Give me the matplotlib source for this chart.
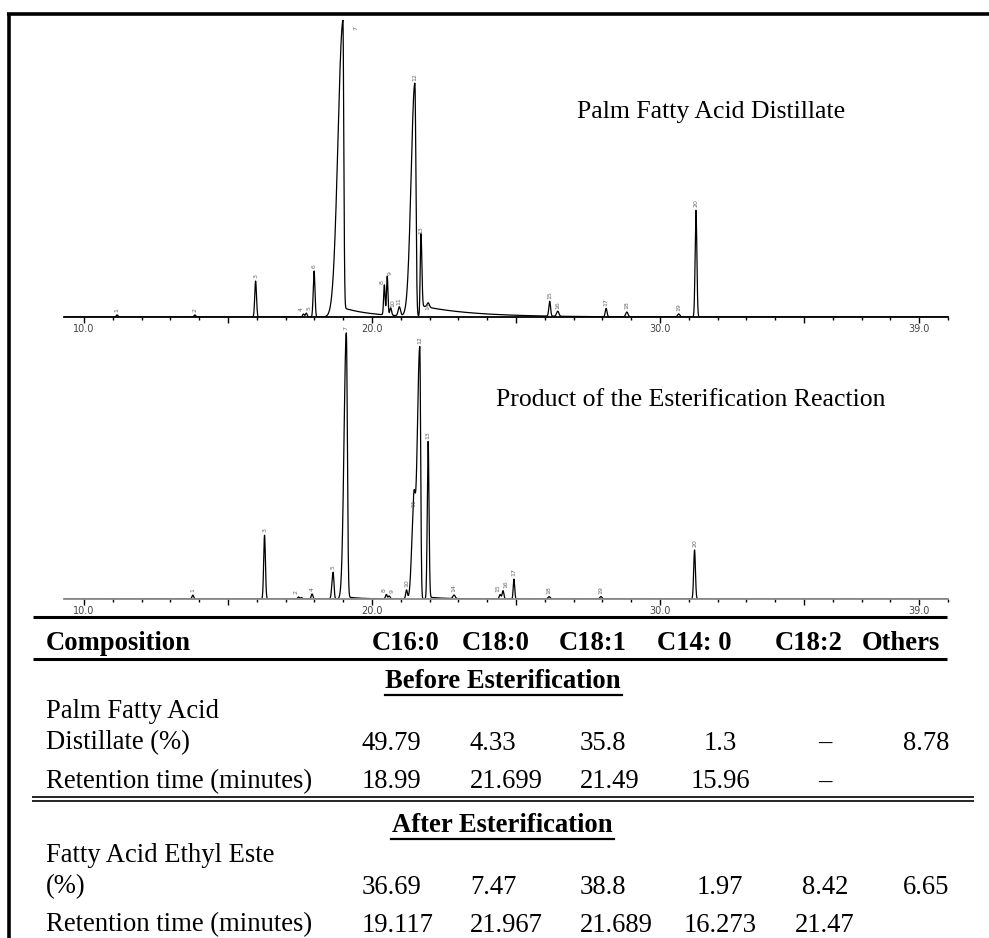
import numpy as np
import matplotlib.pyplot as plt
from matplotlib.ticker import FixedLocator, FixedFormatter, MultipleLocator

# ------------------------
# GC chromatograms + composition table
# ------------------------

W, H = 989, 938

# peaks (palm fatty acid distillate), intensity in % of panel height
pfad_rt = [11.15, 13.85, 15.96, 17.62, 17.72, 17.99, 18.99, 20.43, 20.53, 20.65, 20.95, 21.49, 21.70, 21.95,
           26.17, 26.45, 28.13, 28.85, 30.65, 31.25]
pfad_h = [0.7, 0.7, 12.1, 1.0, 1.3, 15.5, 99.0, 10.1, 13.1, 2.5, 3.0, 78.5, 27.0, 1.5,
          5.0, 1.7, 2.8, 1.6, 1.0, 36.0]
pfad_wl = [0.03, 0.03, 0.03, 0.03, 0.03, 0.03, 0.17, 0.025, 0.025, 0.03, 0.04, 0.13, 0.025, 0.04,
           0.03, 0.04, 0.03, 0.04, 0.04, 0.03]
pfad_wr = [0.03, 0.03, 0.03, 0.03, 0.03, 0.03, 0.03, 0.025, 0.025, 0.03, 0.04, 0.035, 0.03, 0.04,
           0.03, 0.04, 0.03, 0.04, 0.04, 0.03]
pfad_lab = ["1", "2", "3", "4", "5", "6", "7", "8", "9", "10", "11", "12", "13", "14",
            "15", "16", "17", "18", "19", "20"]
pfad_tail_t0 = [19.03, 21.75]
pfad_tail_amp = [3.0, 3.5]
pfad_tail_tau = [1.0, 1.8]

# peaks of the bottom trace (product of esterification)
faee_rt = [13.78, 16.27, 17.45, 17.55, 17.92, 18.65, 19.11, 20.50, 20.60, 21.20, 21.45, 21.66, 21.95, 22.85,
           24.45, 24.55, 24.93, 26.15, 27.95, 31.20]
faee_h = [1.3, 21.5, 0.7, 0.5, 1.7, 9.0, 89.6, 1.5, 1.0, 3.0, 30.0, 85.0, 53.0, 1.2,
          1.5, 2.8, 6.7, 0.8, 0.8, 16.5]
faee_wl = [0.03, 0.03, 0.03, 0.03, 0.03, 0.04, 0.08, 0.03, 0.03, 0.03, 0.07, 0.09, 0.03, 0.04,
           0.03, 0.03, 0.025, 0.04, 0.04, 0.03]
faee_wr = [0.03, 0.03, 0.03, 0.03, 0.03, 0.03, 0.035, 0.03, 0.03, 0.03, 0.05, 0.03, 0.03, 0.04,
           0.03, 0.03, 0.025, 0.04, 0.04, 0.03]
faee_lab = ["1", "3", "2", "", "4", "5", "7", "8", "9", "10", "11", "12", "13", "14",
            "15", "16", "17", "18", "19", "20"]
faee_tail_t0 = [19.2, 22.0]
faee_tail_amp = [0.6, 0.6]
faee_tail_tau = [0.5, 0.6]

# table
columns = ["C16:0", "C18:0", "C18:1", "C14: 0", "C18:2", "Others"]
before_pct = ["49.79", "4.33", "35.8", "1.3", "\u2013", "8.78"]
before_rt = ["18.99", "21.699", "21.49", "15.96", "\u2013", ""]
after_pct = ["36.69", "7.47", "38.8", "1.97", "8.42", "6.65"]
after_rt = ["19.117", "21.967", "21.689", "16.273", "21.47", ""]


def build_trace(t, rt, h, wl, wr, t0s, amps, taus):
    y = np.zeros_like(t)
    for r, a, l, s in zip(rt, h, wl, wr):
        sig = np.where(t < r, l, s)
        y += a * np.exp(-0.5 * ((t - r) / sig) ** 2)
    for t0, a, tau in zip(t0s, amps, taus):
        y += np.where(t >= t0, a * np.exp(-(t - t0) / tau), a * np.exp(-0.5 * ((t - t0) / 0.03) ** 2))
    return y


plt.rcParams['font.family'] = ['Liberation Serif', 'DejaVu Serif']
fig = plt.figure(figsize=(W / 100, H / 100), dpi=100)

# pixel-coordinate overlay for the frame and the table
bg = fig.add_axes([0, 0, 1, 1])
bg.set_xlim(0, W)
bg.set_ylim(H, 0)
bg.axis('off')


def px_to_fig(x0, y_top, x1, y_base):
    return [x0 / W, 1 - y_base / H, (x1 - x0) / W, (y_base - y_top) / H]


t = np.arange(9.3, 40.0, 0.004)
XL, XR = 63.8, 948.0

panels = [
    (317, pfad_rt, pfad_h, pfad_wl, pfad_wr, pfad_lab, pfad_tail_t0, pfad_tail_amp, pfad_tail_tau,
     "Palm Fatty Acid Distillate", 577, 112, 'black'),
    (599, faee_rt, faee_h, faee_wl, faee_wr, faee_lab, faee_tail_t0, faee_tail_amp, faee_tail_tau,
     "Product of the Esterification Reaction", 496, 400, '#8a8a8a'),
]

for base, rt, h, wl, wr, lab, t0s, amps, taus, title, tx, ty, axcol in panels:
    ax = fig.add_axes(px_to_fig(XL, base - 297, XR, base))
    ax.patch.set_alpha(0)
    y = build_trace(t, rt, h, wl, wr, t0s, amps, taus)
    ax.plot(t, y, color='black', lw=0.9)
    ax.set_xlim(9.3, 40.0)
    ax.set_ylim(0, 100)
    for s in ['top', 'left', 'right']:
        ax.spines[s].set_visible(False)
    ax.spines['bottom'].set_color(axcol)
    ax.spines['bottom'].set_linewidth(1.3)
    ax.set_yticks([])
    ax.xaxis.set_major_locator(FixedLocator([10, 15, 20, 25, 30, 35, 39]))
    ax.xaxis.set_major_formatter(FixedFormatter(["10.0", "", "20.0", "", "30.0", "", "39.0"]))
    ax.xaxis.set_minor_locator(MultipleLocator(1))
    ax.tick_params(axis='x', which='major', length=4, width=1, color='black', pad=1,
                   labelsize=7, labelcolor='#444444')
    ax.tick_params(axis='x', which='minor', length=2.5, width=1, color='black')
    for lbl in ax.get_xticklabels():
        lbl.set_family('DejaVu Sans')
    # peak numbers; nudge neighbours apart when two peaks sit very close
    for i, (r, a, l) in enumerate(zip(rt, h, lab)):
        if not l:
            continue
        dx = 0.0
        if i + 1 < len(rt) and rt[i + 1] - r < 0.16 and a < 20 and h[i + 1] < 20:
            dx = -0.09
        if i > 0 and r - rt[i - 1] < 0.16 and a < 20 and h[i - 1] < 20:
            dx = 0.09
        if a > 95:
            ax.text(r + 0.45, 98, l, rotation=90, fontsize=4.5, color='#666666',
                    ha='center', va='top', family='DejaVu Sans', clip_on=False)
        else:
            ax.text(r + dx, a + 1.0, l, rotation=90, fontsize=4.5, color='#666666',
                    ha='center', va='bottom', family='DejaVu Sans', clip_on=False)
    bg.text(tx, ty, title, fontsize=18.5, ha='left', va='center')

# frame
bg.plot([7, W], [14, 14], color='black', lw=2.6, solid_capstyle='butt')
bg.plot([8.5, 8.5], [13, H], color='black', lw=2.6, solid_capstyle='butt')

# table rules
bg.plot([33, 947], [617, 617], color='black', lw=2.2, solid_capstyle='butt')
bg.plot([33, 947], [659, 659], color='black', lw=2.2, solid_capstyle='butt')
bg.plot([32, 974], [797, 797], color='black', lw=1.2, solid_capstyle='butt')
bg.plot([32, 974], [801, 801], color='black', lw=1.2, solid_capstyle='butt')

FS = 19.2
bg.text(46, 643, "Composition", fontsize=FS, weight='bold', ha='left', va='center')
head_x = [372, 462, 559, 657, 775, 862]
for x, c in zip(head_x, columns):
    bg.text(x, 643, c, fontsize=FS, weight='bold', ha='left', va='center')

# value columns: (x, alignment)
val_pos = [(362, 'left'), (470, 'left'), (580, 'left'), (720, 'center'), (825, 'center'), (949, 'right')]


def value_row(vals, yy):
    for (x, al), v in zip(val_pos, vals):
        if v:
            bg.text(x, yy, v, fontsize=FS, ha=al, va='center')


bg.text(503, 682, "Before Esterification", fontsize=FS, weight='bold', ha='center', va='center')
bg.plot([385, 622], [695, 695], color='black', lw=1.6)
bg.text(46, 712, "Palm Fatty Acid", fontsize=FS, ha='left', va='center')
bg.text(46, 743, "Distillate (%)", fontsize=FS, ha='left', va='center')
value_row(before_pct, 743)
bg.text(46, 782, "Retention time (minutes)", fontsize=FS, ha='left', va='center')
value_row(before_rt, 782)

bg.text(502, 826, "After Esterification", fontsize=FS, weight='bold', ha='center', va='center')
bg.plot([391, 614], [839, 839], color='black', lw=1.6)
bg.text(46, 856, "Fatty Acid Ethyl Este", fontsize=FS, ha='left', va='center')
bg.text(46, 887, "(%)", fontsize=FS, ha='left', va='center')
value_row(after_pct, 887)
bg.text(46, 925, "Retention time (minutes)", fontsize=FS, ha='left', va='center')
value_row(after_rt, 925)

fig.savefig("out.png", dpi=100)
